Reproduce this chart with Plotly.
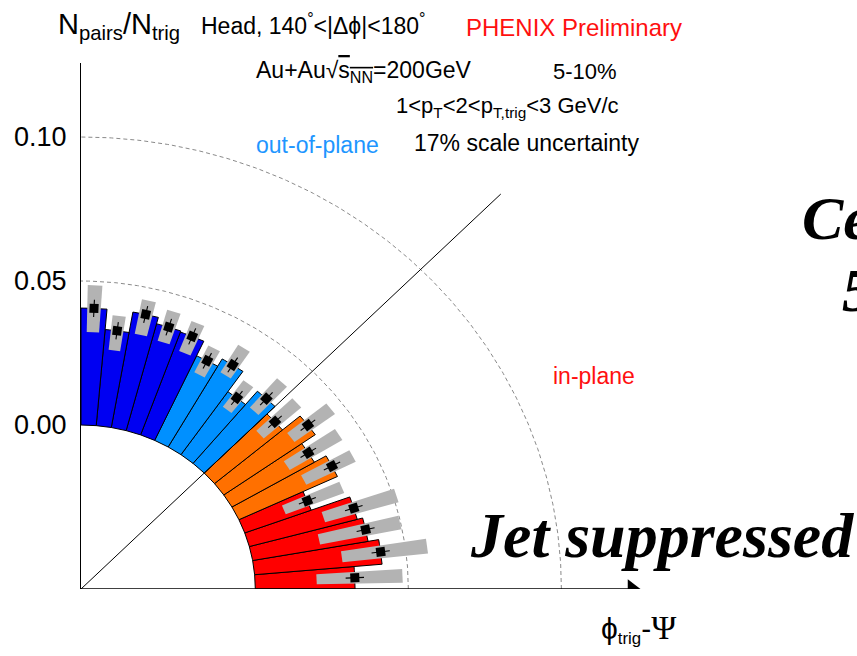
import numpy as np
import plotly.graph_objects as go

# ---------------- data ----------------
bin_lo_deg = [0, 5, 10, 15, 20, 25, 30, 35, 40, 45, 50, 55, 60, 65, 70, 75, 80, 85]
bin_hi_deg = [5, 10, 15, 20, 25, 30, 35, 40, 45, 50, 55, 60, 65, 70, 75, 80, 85, 90]
yield_vals = [0.0326, 0.0418, 0.0383, 0.0365, 0.0231, 0.0355, 0.0311, 0.0365, 0.0290,
              0.0327, 0.0267, 0.0353, 0.0324, 0.0380, 0.0384, 0.0407, 0.0335, 0.0406]
stat_err = [0.0030, 0.0030, 0.0030, 0.0030, 0.0030, 0.0030, 0.0030, 0.0030, 0.0030,
            0.0030, 0.0030, 0.0030, 0.0030, 0.0030, 0.0030, 0.0030, 0.0030, 0.0030]
sys_lo = [0.0125, 0.0128, 0.0156, 0.0104, 0.0083, 0.0104, 0.0083, 0.0070, 0.0066,
          0.0059, 0.0052, 0.0043, 0.0055, 0.0063, 0.0056, 0.0073, 0.0069, 0.0083]
sys_hi = [0.0156, 0.0153, 0.0115, 0.0146, 0.0122, 0.0076, 0.0118, 0.0094, 0.0097,
          0.0076, 0.0062, 0.0069, 0.0049, 0.0049, 0.0056, 0.0049, 0.0052, 0.0080]
bin_group = ["in", "in", "in", "in", "in", "mid_in", "mid_in", "mid_in", "mid_in",
             "mid_out", "mid_out", "mid_out", "mid_out", "out", "out", "out", "out", "out"]
ytick_vals = [0.00, 0.05, 0.10]
ref_circles = [0.05, 0.10]
diag_len = 0.137

group_color = {"in": "#FF0000", "mid_in": "#FF7000", "mid_out": "#0090FF", "out": "#0000F2"}
GRAY = "#B3B3B3"

# ---------------- geometry ----------------
R0 = 0.05694          # radial offset of the zero level
PX_Y = 2880.0         # pixels per unit, vertical
PX_X = 3061.0         # pixels per unit, horizontal
L, T, B = 81, 63, 67
W_FIG, H_FIG = 857, 656
PW = W_FIG - L
PH = H_FIG - T - B
AX_Y = H_FIG - B      # pixel row of the x axis


def xy(R, th_deg):
    th = np.radians(th_deg)
    return R * np.cos(th), R * np.sin(th) - R0


def wedge(r_in, r_out, a0, a1, n=30):
    a = np.linspace(a0, a1, n)
    xo, yo = xy(r_out, a)
    xi, yi = xy(r_in, a[::-1])
    xs = np.concatenate([xo, xi, xo[:1]])
    ys = np.concatenate([yo, yi, yo[:1]])
    return xs, ys


fig = go.Figure()

# reference dashed arcs
for c in ref_circles:
    a = np.linspace(0, 90, 200)
    x, y = xy(R0 + c, a)
    fig.add_trace(go.Scatter(x=x, y=y, mode="lines",
                             line=dict(color="#8A8A8A", width=1, dash="4px,3px"),
                             hoverinfo="skip", showlegend=False))

# bars
for lo, hi, v, g in zip(bin_lo_deg, bin_hi_deg, yield_vals, bin_group):
    xs, ys = wedge(R0, R0 + v, lo, hi)
    fig.add_trace(go.Scatter(x=xs, y=ys, mode="lines", fill="toself",
                             fillcolor=group_color[g],
                             line=dict(color="black", width=1),
                             hoverinfo="skip", showlegend=False))

# diagonal 45 degree line
dx, dy = xy(np.array([0.0, R0 + diag_len]), 45)
fig.add_trace(go.Scatter(x=dx, y=dy, mode="lines", line=dict(color="black", width=1),
                         hoverinfo="skip", showlegend=False))

# systematic boxes
for lo, hi, v, sl, sh in zip(bin_lo_deg, bin_hi_deg, yield_vals, sys_lo, sys_hi):
    c = 0.5 * (lo + hi)
    half = 0.26 * (hi - lo)
    xs, ys = wedge(R0 + v - sl, R0 + v + sh, c - half, c + half, n=6)
    fig.add_trace(go.Scatter(x=xs, y=ys, mode="lines", fill="toself",
                             fillcolor=GRAY, line=dict(width=0),
                             hoverinfo="skip", showlegend=False))

# stat error bars
ex, ey = [], []
for lo, hi, v, e in zip(bin_lo_deg, bin_hi_deg, yield_vals, stat_err):
    c = 0.5 * (lo + hi)
    x, y = xy(np.array([R0 + v - e, R0 + v + e]), c)
    ex += list(x) + [None]
    ey += list(y) + [None]
fig.add_trace(go.Scatter(x=ex, y=ey, mode="lines", line=dict(color="black", width=1.1),
                         hoverinfo="skip", showlegend=False))

# points
centers = [0.5 * (lo + hi) for lo, hi in zip(bin_lo_deg, bin_hi_deg)]
px_, py_ = xy(R0 + np.array(yield_vals), np.array(centers))
fig.add_trace(go.Scatter(x=px_, y=py_, mode="markers",
                         marker=dict(symbol="square", size=9, color="black",
                                     angle=[-c for c in centers]),
                         hoverinfo="skip", showlegend=False))

# x axis line with arrow
arrow_tip_px = 640
x_end = (arrow_tip_px - 8 - L) / PX_X
fig.add_trace(go.Scatter(x=[0, x_end], y=[-R0, -R0], mode="lines",
                         line=dict(color="black", width=1.5),
                         hoverinfo="skip", showlegend=False))
fig.add_trace(go.Scatter(x=[x_end], y=[-R0], mode="markers",
                         marker=dict(symbol="triangle-right", size=17, color="black"),
                         hoverinfo="skip", showlegend=False))

SANS = "Liberation Sans, Arial, sans-serif"
SERIF = "Liberation Serif, Times New Roman, serif"


def pxp(x):
    return (x - L) / PW


def pyp(y):
    return (AX_Y - y) / PH


def ann(text, x, y, size, color="black", family=SANS, xanchor="left", yanchor="middle"):
    fig.add_annotation(text=text, x=pxp(x), y=pyp(y), xref="paper", yref="paper",
                       xanchor=xanchor, yanchor=yanchor, showarrow=False,
                       font=dict(size=size, color=color, family=family))


ann("N<sub>pairs</sub>/N<sub>trig</sub>", 56, 26, 29)
ann("Head, 140<sup>°</sup><|Δϕ|<180<sup>°</sup>", 199, 24, 23)
ann("PHENIX Preliminary", 464, 28, 24, color="#FF1010")
ann("Au+Au√<span style='text-decoration:overline'>s<sub>NN</sub></span>=200GeV", 254, 72, 23)
ann("5-10%", 551, 72, 22)
ann("1<p<sub>T</sub><2<p<sub>T,trig</sub><3 GeV/c", 394, 107, 22)
ann("out-of-plane", 254, 145, 23, color="#1E96FF")
ann("17% scale uncertainty", 412, 143, 23)
ann("in-plane", 551, 376, 23, color="#FF1010")
ann("<span style='font-size:30px'>ϕ</span><sub>trig</sub>"
    "<span style='font-size:30px'>-</span>"
    "<span style='font-family:Liberation Serif;font-size:34px'>Ψ</span>", 599, 628, 24)
ann("<b><i>Jet suppressed</i></b>", 468, 535, 64, family=SERIF)
ann("<b><i>Ce</i></b>", 800, 218, 62, family=SERIF)
ann("<b><i>5</i></b>", 840, 290, 62, family=SERIF)

fig.update_layout(
    width=W_FIG, height=H_FIG,
    margin=dict(l=L, r=0, t=T, b=B),
    paper_bgcolor="white", plot_bgcolor="white",
    showlegend=False,
    xaxis=dict(range=[0, PW / PX_X], showgrid=False, zeroline=False, showline=False,
               showticklabels=False, ticks="", fixedrange=True),
    yaxis=dict(range=[-R0, -R0 + PH / PX_Y], showgrid=False, zeroline=False,
               showline=True, linecolor="black", linewidth=1.3,
               tickvals=ytick_vals, tickformat=".2f", ticks="",
               tickfont=dict(size=27, family=SANS, color="black"),
               ticklabelstandoff=8, fixedrange=True),
)

fig.write_html("out.html")
